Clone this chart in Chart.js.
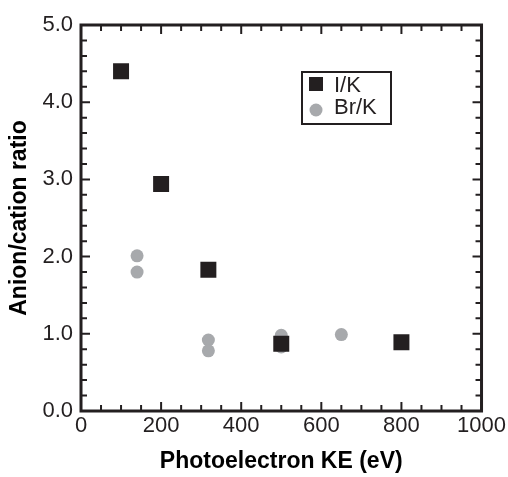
<!DOCTYPE html>
<html>
<head>
<meta charset="utf-8">
<script src="https://cdn.jsdelivr.net/npm/chart.js@4"></script>
<style>
  html, body { margin: 0; padding: 0; background: #fff; }
  canvas { display: block; }
</style>
</head>
<body>
<canvas id="chart" width="508" height="477"></canvas>
<script>
// data
const ikX = [100, 200, 318, 500, 800];
const ikY = [4.40, 2.94, 1.83, 0.87, 0.89];
const brX = [140, 140, 318, 318, 500, 500, 650];
const brY = [2.01, 1.80, 0.92, 0.78, 0.98, 0.83, 0.99];

const xTicks = [0, 200, 400, 600, 800, 1000];
const yTicks = [0, 1, 2, 3, 4, 5];
const yTickLabels = ['0.0', '1.0', '2.0', '3.0', '4.0', '5.0'];

const ink = '#231f20';
const gray = '#a7a9ac';
const fontFamily = '"Liberation Sans", Arial, Helvetica, sans-serif';

function toPoints(xs, ys) {
    return xs.map((x, i) => ({ x: x, y: ys[i] }));
}

// frame + inward ticks on all four sides
const framePlugin = {
    id: 'frame',
    beforeDatasetsDraw(chart) {
        const { ctx, chartArea: a, scales } = chart;
        ctx.save();
        ctx.strokeStyle = ink;
        ctx.lineWidth = 2;
        ctx.beginPath();
        for (let i = 0; i <= 20; i++) {
            const px = scales.x.getPixelForValue(i * 50);
            const len = i % 4 === 0 ? 9 : 6;
            ctx.moveTo(px, a.bottom); ctx.lineTo(px, a.bottom - len);
            ctx.moveTo(px, a.top); ctx.lineTo(px, a.top + len);
        }
        for (let i = 0; i <= 25; i++) {
            const py = scales.y.getPixelForValue(i * 0.2);
            const len = i % 5 === 0 ? 9 : 6;
            ctx.moveTo(a.left, py); ctx.lineTo(a.left + len, py);
            ctx.moveTo(a.right, py); ctx.lineTo(a.right - len, py);
        }
        ctx.stroke();
        ctx.lineWidth = 3;
        ctx.strokeRect(a.left, a.top, a.right - a.left, a.bottom - a.top);
        ctx.restore();
    }
};

// boxed legend inside the plot
const boxLegend = {
    id: 'boxLegend',
    afterDatasetsDraw(chart) {
        const { ctx, chartArea: a } = chart;
        const bx = a.left + 221, by = a.top + 47;
        ctx.save();
        ctx.strokeStyle = ink;
        ctx.lineWidth = 2;
        ctx.strokeRect(bx, by, 89, 52);
        ctx.fillStyle = ink;
        ctx.fillRect(bx + 7, by + 5, 14, 14);
        ctx.fillStyle = gray;
        ctx.beginPath();
        ctx.arc(bx + 14, by + 38, 6.5, 0, Math.PI * 2);
        ctx.fill();
        ctx.fillStyle = ink;
        ctx.font = '22px ' + fontFamily;
        ctx.textBaseline = 'middle';
        ctx.fillText(chart.data.datasets[0].label, bx + 32, by + 14);
        ctx.fillText(chart.data.datasets[1].label, bx + 32, by + 36);
        ctx.restore();
    }
};

new Chart(document.getElementById('chart'), {
    type: 'scatter',
    data: {
        datasets: [
            {
                label: 'I/K',
                data: toPoints(ikX, ikY),
                pointStyle: 'rect',
                pointRadius: 11.3,
                pointHoverRadius: 11.3,
                backgroundColor: ink,
                borderWidth: 0
            },
            {
                label: 'Br/K',
                data: toPoints(brX, brY),
                pointStyle: 'circle',
                pointRadius: 6.5,
                pointHoverRadius: 6.5,
                backgroundColor: gray,
                borderWidth: 0
            }
        ]
    },
    options: {
        responsive: false,
        animation: false,
        devicePixelRatio: 1,
        layout: { padding: { top: 25, right: 25, left: 0, bottom: 0 } },
        plugins: {
            legend: { display: false },
            tooltip: { enabled: false }
        },
        scales: {
            x: {
                type: 'linear',
                min: 0,
                max: 1000,
                afterFit(scale) { scale.height = 66; },
                afterBuildTicks(scale) { scale.ticks = xTicks.map(v => ({ value: v })); },
                grid: { display: true, drawOnChartArea: false, drawTicks: false },
                border: { display: false },
                ticks: {
                    color: ink,
                    padding: 2,
                    maxRotation: 0,
                    font: { family: fontFamily, size: 22 },
                    callback: v => String(v)
                },
                title: {
                    display: true,
                    text: 'Photoelectron KE (eV)',
                    color: '#000',
                    padding: { top: 0, bottom: 2 },
                    font: { family: fontFamily, size: 23, weight: 'bold' }
                }
            },
            y: {
                type: 'linear',
                min: 0,
                max: 5,
                afterFit(scale) { scale.width = 81; },
                afterBuildTicks(scale) { scale.ticks = yTicks.map(v => ({ value: v })); },
                grid: { display: true, drawOnChartArea: false, drawTicks: false },
                border: { display: false },
                ticks: {
                    color: ink,
                    padding: 8,
                    font: { family: fontFamily, size: 22 },
                    callback: v => yTickLabels[yTicks.indexOf(v)]
                },
                title: {
                    display: true,
                    text: 'Anion/cation ratio',
                    color: '#000',
                    padding: { top: 6, bottom: 0 },
                    font: { family: fontFamily, size: 23, weight: 'bold' }
                }
            }
        }
    },
    plugins: [framePlugin, boxLegend]
});
</script>
</body>
</html>
